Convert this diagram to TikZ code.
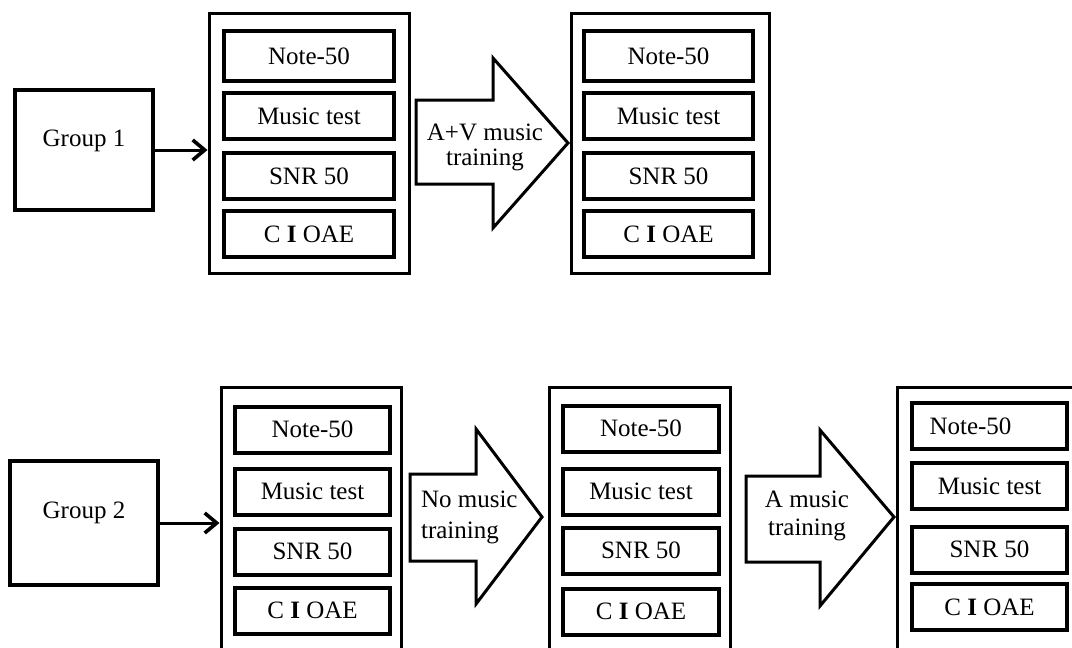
\documentclass[tikz,border=0pt]{standalone}
\usepackage{fontspec}
\setmainfont{Liberation Serif}
\usetikzlibrary{arrows.meta}

\begin{document}
\begin{tikzpicture}[x=0.5pt,y=-0.5pt,
    every node/.style={font=\fontsize{12.5}{12.5}\selectfont},
    grpbox/.style={draw,line width=2pt,inner sep=0pt},
    outbox/.style={draw,line width=1.5pt,inner sep=0pt},
    inbox/.style={draw,line width=2pt,inner sep=0pt,minimum height=23pt},
    flow/.style={line width=1.5pt,-{Straight Barb[length=6pt,width=10pt,line width=1.8pt]}},
    barrow/.style={draw,line width=1.5pt,line join=miter}]
    \useasboundingbox (0,0) rectangle (1072,648);
    \clip (0,0) rectangle (1072,648);
    % group 1
    \node [grpbox,minimum width=69pt,minimum height=60pt,label={[yshift=4.5pt]center:Group 1}] (g1) at (84,150) {};
    \node [outbox,minimum width=100pt,minimum height=130pt] (c1) at (309,143) {};
    \node [inbox,minimum width=85pt,minimum height=25pt] (c1a) at (309,56) {Note-50};
    \node [inbox,minimum width=85pt] (c1b) at (309,116) {Music test};
    \node [inbox,minimum width=85pt] (c1c) at (309,176) {SNR 50};
    \node [inbox,minimum width=85pt] (c1d) at (309,234) {C \textbf{I} OAE};
    \draw [flow] (g1.east) -- (c1.west |- g1.east);
    \draw [barrow] (416,100) -- (493,100) -- (493,58) -- (568,143) -- (493,228) -- (493,184) -- (416,184) -- cycle;
    \node [align=center] (t1) at (485,147) {A+V music\\training};
    \node [outbox,minimum width=99pt,minimum height=130pt] (c2) at (670,143) {};
    \node [inbox,minimum width=84.5pt,minimum height=25pt] (c2a) at (668.5,56) {Note-50};
    \node [inbox,minimum width=84.5pt] (c2b) at (668.5,116) {Music test};
    \node [inbox,minimum width=84.5pt] (c2c) at (668.5,176) {SNR 50};
    \node [inbox,minimum width=84.5pt] (c2d) at (668.5,234) {C \textbf{I} OAE};
    % group 2
    \node [grpbox,minimum width=74pt,minimum height=62pt,label={[yshift=5pt]center:Group 2}] (g2) at (84,523) {};
    \node [outbox,minimum width=90pt,minimum height=137.5pt] (c3) at (311,524.5) {};
    \node [inbox,minimum width=77.5pt] (c3a) at (312.5,429.5) {Note-50};
    \node [inbox,minimum width=77.5pt] (c3b) at (312.5,491.5) {Music test};
    \node [inbox,minimum width=77.5pt] (c3c) at (312.5,551.5) {SNR 50};
    \node [inbox,minimum width=77.5pt] (c3d) at (312.5,610.5) {C \textbf{I} OAE};
    \draw [flow] (g2.east) -- (c3.west |- g2.east);
    \draw [barrow] (410,474) -- (476,474) -- (476,429) -- (542,517) -- (476,604) -- (476,561) -- (410,561) -- cycle;
    \node [align=left,anchor=west,font=\fontsize{12.5}{15.5}\selectfont] (t2) at (414,517.5) {No music\\training};
    \node [outbox,minimum width=90.5pt,minimum height=137.5pt] (c4) at (639.5,524.5) {};
    \node [inbox,minimum width=78pt] (c4a) at (641,428.5) {Note-50};
    \node [inbox,minimum width=78pt] (c4b) at (641,491.5) {Music test};
    \node [inbox,minimum width=78pt] (c4c) at (641,550.5) {SNR 50};
    \node [inbox,minimum width=78pt] (c4d) at (641,611.5) {C \textbf{I} OAE};
    \draw [barrow] (746,476) -- (820,476) -- (820,430) -- (894,517) -- (820,606) -- (820,562) -- (746,562) -- cycle;
    \node [align=center,font=\fontsize{12.5}{14}\selectfont] (t3) at (807,516) {A music\\training};
    \node [outbox,minimum width=91.5pt,minimum height=137.5pt] (c5) at (988.5,524.5) {};
    \node [inbox,minimum width=77.5pt] (c5a) at (989.5,426) {Note-50\hspace*{19pt}};
    \node [inbox,minimum width=77.5pt] (c5b) at (989.5,486) {Music test};
    \node [inbox,minimum width=77.5pt] (c5c) at (989.5,549.5) {SNR 50};
    \node [inbox,minimum width=77.5pt] (c5d) at (989.5,607) {C \textbf{I} OAE};
\end{tikzpicture}
\end{document}
